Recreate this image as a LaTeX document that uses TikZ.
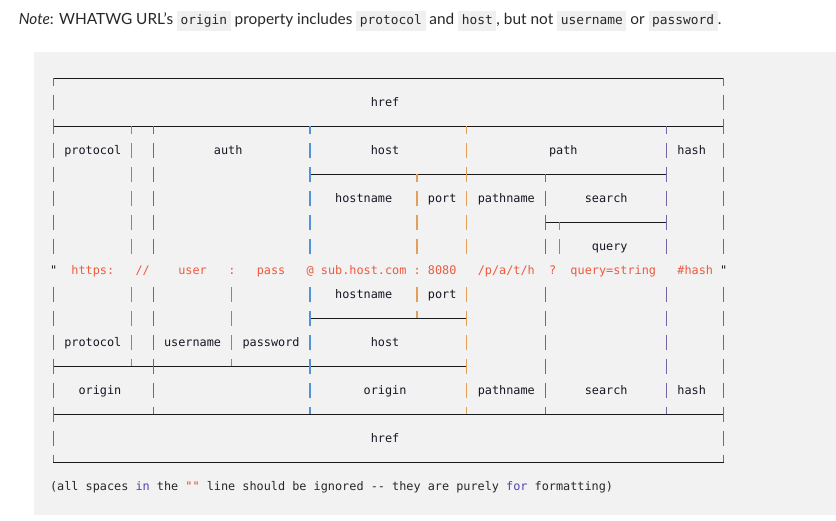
\documentclass[tikz,border=0pt]{standalone}
\usepackage{fontspec}
\setmainfont{Lato}
\setmonofont{DejaVu Sans Mono}
\usepackage{xcolor}
\usepackage{tikz}

\definecolor{prebg}{RGB}{242,242,242}
\definecolor{codebg}{RGB}{240,240,240}
\definecolor{notetext}{RGB}{40,40,40}
\definecolor{labeltext}{RGB}{25,22,35}
\definecolor{urltext}{RGB}{238,90,62}
\definecolor{kwtext}{RGB}{80,70,170}
\definecolor{strtext}{RGB}{225,70,60}
\definecolor{ruleline}{RGB}{25,25,25}
\definecolor{barA}{RGB}{130,100,120}
\definecolor{barB}{RGB}{85,145,215}
\definecolor{barC}{RGB}{110,105,140}
\definecolor{barO}{RGB}{225,160,90}
\definecolor{barP}{RGB}{120,100,165}

\newcommand{\diagfont}{\ttfamily\fontsize{8.88pt}{10pt}\selectfont}
\newcommand{\codefont}{\ttfamily\fontsize{9.65pt}{11pt}\selectfont}
\setlength{\fboxsep}{1.5pt}
\newcommand{\codebox}[1]{\colorbox{codebg}{\hspace{1.2pt}\rule[-3pt]{0pt}{12pt}\codefont #1\hspace{1.2pt}}}

% bar glyphs: full cell, upper tee/corner, lower tee/corner
\newcommand{\barrun}[4]{\foreach \rw in {#3,...,#4} {\draw[vglyph,#1] (#2,\rw-0.3) -- (#2,\rw+0.3);}}
\newcommand{\bartop}[3]{\draw[vglyph,#1] (#2,#3) -- (#2,#3+0.3);}
\newcommand{\barfoot}[3]{\draw[vglyph,#1] (#2,#3-0.3) -- (#2,#3);}

\tikzset{
  lbl/.style={anchor=base west, inner sep=0pt, font=\diagfont, text=labeltext},
  urlpart/.style={lbl, text=urltext},
  hrule/.style={draw=ruleline, line width=0.75pt},
  vglyph/.style={line width=0.9pt},
}

\begin{document}
\begin{tikzpicture}[x=0.75pt,y=0.75pt,yscale=-1,xscale=1]
\path[use as bounding box, fill=white] (0,0) rectangle (836,521);

% Note line
\node[anchor=base west, inner sep=0pt, text=notetext, font=\fontsize{11.55pt}{13pt}\selectfont] (note) at (18.5,25)
  {\textit{Note}: WHATWG URL's \codebox{origin} property includes \codebox{protocol} and \codebox{host}, but not \codebox{username} or \codebox{password}.};

% Pre block
\fill[prebg] (34,52) rectangle (836,515);

\begin{scope}[shift={(53.3,78.3)}, x=5.3475pt, y=18pt]
% horizontal rules
\draw[hrule] (0,0) -- (94,0);
\draw[hrule] (0,2) -- (94,2);
\draw[hrule] (36,4) -- (86,4);
\draw[hrule] (69,6) -- (86,6);
\draw[hrule] (36,10) -- (58,10);
\draw[hrule] (0,12) -- (58,12);
\draw[hrule] (0,14) -- (94,14);
\draw[hrule] (0,16) -- (94,16);

% vertical bars, column by column
\bartop{barA}{0}{0} \barrun{barA}{0}{1}{7} \barrun{barA}{0}{9}{15} \barfoot{barA}{0}{16}
\bartop{barB}{11}{2} \barrun{barB}{11}{3}{7} \barrun{barB}{11}{9}{11} \barfoot{barB}{11}{12}
\bartop{barC}{14}{2} \barrun{barC}{14}{3}{7} \barrun{barC}{14}{9}{13} \barfoot{barC}{14}{14}
\barrun{barB}{25}{9}{11} \barfoot{barB}{25}{12}
\bartop{barB}{36}{2} \barrun{barB}{36}{3}{7} \barrun{barB}{36}{9}{13} \barfoot{barB}{36}{14}
\bartop{barO}{51}{4} \barrun{barO}{51}{5}{7} \barrun{barO}{51}{9}{9} \barfoot{barO}{51}{10}
\bartop{barO}{58}{2} \barrun{barO}{58}{3}{7} \barrun{barO}{58}{9}{13} \barfoot{barO}{58}{14}
\bartop{barC}{69}{4} \barrun{barC}{69}{5}{7} \barrun{barC}{69}{9}{13} \barfoot{barC}{69}{14}
\bartop{barB}{71}{6} \barrun{barB}{71}{7}{7}
\bartop{barP}{86}{2} \barrun{barP}{86}{3}{7} \barrun{barP}{86}{9}{13} \barfoot{barP}{86}{14}
\bartop{barC}{94}{0} \barrun{barC}{94}{1}{7} \barrun{barC}{94}{9}{15} \barfoot{barC}{94}{16}

% labels above the url
\node[lbl] (hreftop) at (44.5,1.18) {href};
\node[lbl] (protocoltop) at (1.5,3.18) {protocol};
\node[lbl] (auth) at (22.5,3.18) {auth};
\node[lbl] (hosttop) at (44.5,3.18) {host};
\node[lbl] (path) at (69.5,3.18) {path};
\node[lbl] (hashtop) at (87.5,3.18) {hash};
\node[lbl] (hostnametop) at (39.5,5.18) {hostname};
\node[lbl] (porttop) at (52.5,5.18) {port};
\node[lbl] (pathnametop) at (59.5,5.18) {pathname};
\node[lbl] (searchtop) at (74.5,5.18) {search};
\node[lbl] (query) at (75.5,7.18) {query};

% the url itself
\node[lbl] (quoteopen) at (-0.5,8.18) {"};
\node[urlpart] (scheme) at (2.5,8.18) {https:};
\node[urlpart] (slashes) at (11.5,8.18) {//};
\node[urlpart] (user) at (17.5,8.18) {user};
\node[urlpart] (colonauth) at (24.5,8.18) {:};
\node[urlpart] (pass) at (28.5,8.18) {pass};
\node[urlpart] (atsign) at (35.5,8.18) {@};
\node[urlpart] (hostval) at (37.5,8.18) {sub.host.com};
\node[urlpart] (colonport) at (50.5,8.18) {:};
\node[urlpart] (portval) at (52.5,8.18) {8080};
\node[urlpart] (pathval) at (59.5,8.18) {/p/a/t/h};
\node[urlpart] (qmark) at (69.5,8.18) {?};
\node[urlpart] (queryval) at (72.5,8.18) {query=string};
\node[urlpart] (hashval) at (87.5,8.18) {\#hash};
\node[lbl] (quoteclose) at (93.5,8.18) {"};

% labels below the url
\node[lbl] (hostnamebot) at (39.5,9.18) {hostname};
\node[lbl] (portbot) at (52.5,9.18) {port};
\node[lbl] (protocolbot) at (1.5,11.18) {protocol};
\node[lbl] (username) at (15.5,11.18) {username};
\node[lbl] (password) at (26.5,11.18) {password};
\node[lbl] (hostbot) at (44.5,11.18) {host};
\node[lbl] (originleft) at (3.5,13.18) {origin};
\node[lbl] (originright) at (43.5,13.18) {origin};
\node[lbl] (pathnamebot) at (59.5,13.18) {pathname};
\node[lbl] (searchbot) at (74.5,13.18) {search};
\node[lbl] (hashbot) at (87.5,13.18) {hash};
\node[lbl] (hrefbot) at (44.5,15.18) {href};

% footnote
\node[lbl, text=notetext] (spacesnote) at (-0.5,17.18)
  {(all spaces \textcolor{kwtext}{in} the \textcolor{strtext}{""} line should be ignored -- they are purely \textcolor{kwtext}{for} formatting)};
\end{scope}

\end{tikzpicture}
\end{document}
